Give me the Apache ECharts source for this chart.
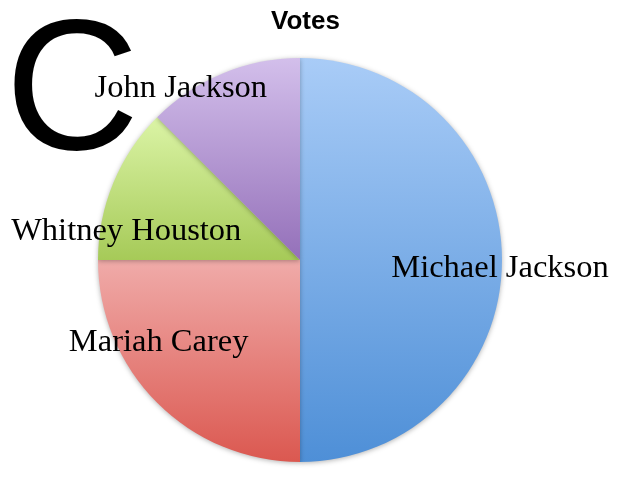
<!DOCTYPE html>
<html>
<head>
<meta charset="utf-8">
<script src="https://cdn.jsdelivr.net/npm/echarts@6/dist/echarts.min.js"></script>
<style>
html,body{margin:0;padding:0;background:#fff;}
#chart{width:621px;height:477px;}
</style>
</head>
<body>
<div id="chart"></div>
<script>
const categories = ['Michael Jackson', 'Mariah Carey', 'Whitney Houston', 'John Jackson'];
const votes = [4, 2, 1, 1];

// styling (not data)
const gradTop = ['#a9ccf7', '#f0aba9', '#dbf4a6', '#d3bfeb'];
const gradBottom = ['#4e8fd7', '#db5850', '#a6ca58', '#9470b9'];
const labelOffset = [[0.99, 0.04], [-0.70, 0.41], [-0.86, -0.14], [-0.59, -0.85]];
const CX = 300, CY = 260, R = 202;

const chart = echarts.init(document.getElementById('chart'), null, {renderer: 'canvas'});
chart.setOption({
  animation: false,
  title: {
    text: 'Votes',
    left: 266,
    top: 4,
    textStyle: {fontFamily: 'Liberation Sans', fontWeight: 'bold', fontSize: 26, color: '#000'}
  },
  graphic: [{
    type: 'text',
    left: 5,
    top: 5,
    z: 1,
    style: {text: 'C', fontFamily: 'Liberation Sans', fontSize: 186, fill: '#000'}
  }],
  series: [{
    type: 'pie',
    center: [CX, CY],
    radius: R,
    startAngle: 90,
    clockwise: true,
    z: 2,
    data: categories.map((name, i) => ({
      name: name,
      value: votes[i],
      itemStyle: {
        color: new echarts.graphic.LinearGradient(0, 0, 0, 1, [
          {offset: 0, color: gradTop[i]},
          {offset: 1, color: gradBottom[i]}
        ])
      }
    })),
    itemStyle: {borderWidth: 0, shadowBlur: 5, shadowColor: 'rgba(0,0,0,0.3)', shadowOffsetY: 1},
    label: {
      show: true,
      position: 'inside',
      formatter: '{b}',
      fontFamily: 'Liberation Serif',
      fontSize: 32.5,
      color: '#000'
    },
    labelLine: {show: false},
    labelLayout: function (params) {
      const o = labelOffset[params.dataIndex];
      return {x: CX + o[0] * R, y: CY + o[1] * R, align: 'center', verticalAlign: 'middle'};
    },
    emphasis: {disabled: true}
  }]
});
</script>
</body>
</html>
